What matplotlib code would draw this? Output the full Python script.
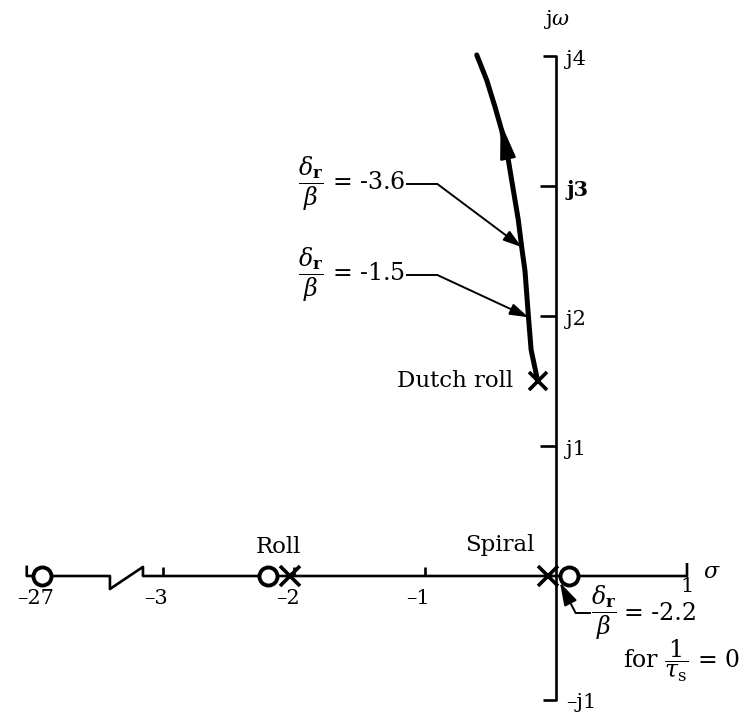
import numpy as np
import matplotlib.pyplot as plt

plt.rcParams['font.family'] = 'DejaVu Serif'
plt.rcParams['mathtext.fontset'] = 'dejavuserif'

# lateral root locus, rudder-to-sideslip feedback
locus_sigma = [-0.14, -0.19, -0.21, -0.237, -0.262, -0.288, -0.326, -0.364, -0.415, -0.466, -0.529, -0.605]
locus_omega = [1.50, 1.74, 1.99, 2.35, 2.53, 2.74, 2.97, 3.20, 3.43, 3.61, 3.815, 4.008]

# open loop poles / zeros on the real axis
pole_sigma = [-2.03, -0.06]
zero_sigma = [-27.0, -2.2, 0.1]
dutch_sigma, dutch_omega = -0.14, 1.50

# gain values marked along the dutch roll branch
gain_labels = ['-3.6', '-1.5']
gain_sigma = [-0.262, -0.21]
gain_omega = [2.53, 1.99]

xtick_vals = [-27, -3, -2, -1, 1]
xtick_text = ['\u201327', '\u20133', '\u20132', '\u20131', '1']
ytick_vals = [4, 3, 2, 1, -1]
ytick_text = ['j4', 'j3', 'j2', 'j1', '\u2013j1']

BRK_L, BRK_R = -3.405, -3.153


def xpos(s):
    # real axis is broken left of -3.4, the far zero sits just past the break
    if s < -3.5:
        return -3.92 + (s + 27) * 0.01
    return s


fig = plt.figure(figsize=(7.45, 7.13), dpi=100)
ax = fig.add_axes([0, 0, 1, 1])
ax.set_xlim(-556 / 131, 189 / 131)
ax.set_ylim(-137 / 130, 576 / 130)
ax.axis('off')

k = dict(color='k', lw=1.9, solid_capstyle='butt', zorder=2)
# real axis with break symbol
ax.plot([-4.04, -4.04, BRK_L, BRK_L, BRK_R, BRK_R, 1.0, 1.0],
        [0.08, 0, 0, -0.10, 0.07, 0, 0, 0.10], **k)
for s in [-3, -2, -1]:
    ax.plot([s, s], [0, 0.07], **k)
# imaginary axis
ax.plot([-0.1, 0, 0, -0.1], [4.0, 4.0, -0.955, -0.955], **k)
for w in [1, 2, 3]:
    ax.plot([-0.12, 0], [w, w], **k)

# tick labels
for v, t in zip(xtick_vals, xtick_text):
    dy = -0.08 if v == 1 else -0.17
    ax.text(xpos(v) - (0.05 if v < 0 else 0), dy, t, ha='center', va='center', fontsize=15)
for v, t in zip(ytick_vals, ytick_text):
    yy = -0.975 if v < 0 else v - 0.03
    ax.text(0.08, yy, t, ha='left', va='center', fontsize=15,
            fontweight='bold' if v == 3 else 'normal')
ax.text(0.0, 4.28, 'j$\\omega$', ha='center', va='center', fontsize=15)
ax.text(1.12, 0.03, '$\\sigma$', ha='left', va='center', fontsize=16)

# locus branch from dutch roll pole
ax.plot(locus_sigma, locus_omega, color='k', lw=3.6, solid_capstyle='round',
        solid_joinstyle='round', zorder=3)
ax.annotate('', xy=(-0.423, 3.49), xytext=(locus_sigma[7], locus_omega[7]),
            arrowprops=dict(arrowstyle='-|>,head_length=2.3,head_width=0.5', color='k',
                            lw=1.5, mutation_scale=10, shrinkA=0, shrinkB=0), zorder=4)

# poles and zeros
ax.plot([xpos(z) for z in zero_sigma], [0] * len(zero_sigma), 'o', ms=13, mfc='white',
        mec='k', mew=2.8, zorder=5)
ax.plot(pole_sigma, [0] * len(pole_sigma), 'x', ms=14, mec='k', mew=2.6, zorder=6)
ax.plot(dutch_sigma, dutch_omega, 'x', ms=13, mec='k', mew=2.6, zorder=6)

ax.text(-2.12, 0.22, 'Roll', ha='center', va='center', fontsize=16.5)
ax.text(-0.43, 0.24, 'Spiral', ha='center', va='center', fontsize=16.5)
ax.text(dutch_sigma - 0.19, dutch_omega, 'Dutch roll', ha='right', va='center', fontsize=16.5)

# gain annotations
thin = dict(arrowstyle='-|>,head_length=0.8,head_width=0.25', color='k', lw=1.4,
            mutation_scale=14, shrinkA=0, shrinkB=0)
for lab, gs, gw, ly in zip(gain_labels, gain_sigma, gain_omega, [3.015, 2.315]):
    ax.plot([-1.14, -0.905], [ly, ly], color='k', lw=1.4)
    ax.annotate('', xy=(gs, gw), xytext=(-0.905, ly), arrowprops=thin)
    ax.text(-1.15, ly, r'$\dfrac{\delta_{\mathbf{r}}}{\beta}$' + ' = ' + lab,
            ha='right', va='center', fontsize=17)

ax.plot([0.26, 0.15], [-0.285, -0.285], color='k', lw=1.4)
ax.annotate('', xy=(0.03, -0.05), xytext=(0.15, -0.285),
            arrowprops=dict(thin, arrowstyle='-|>,head_length=1.0,head_width=0.3'))
ax.text(0.27, -0.285, r'$\dfrac{\delta_{\mathbf{r}}}{\beta}$', ha='left', va='center', fontsize=17)
ax.text(0.52, -0.292, '= -2.2', ha='left', va='center', fontsize=17)
ax.text(0.51, -0.65, r'for $\dfrac{1}{\tau_{\mathrm{s}}}$ = 0',
        ha='left', va='center', fontsize=17)

fig.savefig('out.png', dpi=100)
